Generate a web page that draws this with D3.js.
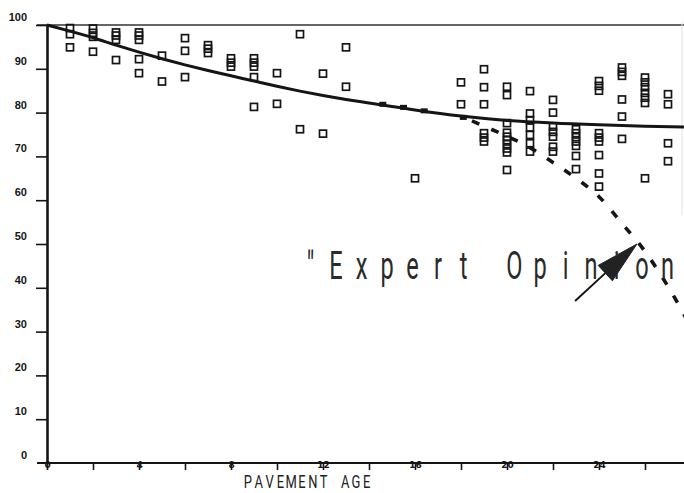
<!DOCTYPE html>
<html><head><meta charset="utf-8">
<script src="https://cdn.jsdelivr.net/npm/d3@7"></script>
<style>
html,body{margin:0;padding:0;background:#fff;}
svg{display:block;}
</style></head><body>
<svg id="chart" width="684" height="493"></svg>
<script>
// Pavement age (years) at which condition surveys were taken
const surveyAges = [1,2,3,4,5,6,7,8,9,10,11,12,13,16,18,19,20,21,22,23,24,25,26,27];
// Condition ratings recorded at each surveyed age
const surveyRatings = [
  [99.3, 97.9, 94.9],
  [99.2, 98.2, 97.3, 93.9],
  [98.3, 97.6, 96.6, 92.0],
  [98.3, 97.6, 96.6, 92.2, 89.0],
  [93.0, 87.1],
  [97.0, 94.1, 88.1],
  [95.4, 94.6, 93.6],
  [92.4, 91.4, 90.5],
  [92.4, 91.4, 90.5, 88.1, 81.3],
  [89.0, 82.0],
  [97.9, 76.2],
  [88.9, 75.2],
  [94.9, 85.9],
  [65.0],
  [86.9, 81.9],
  [89.9, 85.8, 81.9, 75.3, 74.3, 73.4],
  [85.9, 84.0, 77.6, 75.4, 74.5, 73.7, 72.8, 71.8, 70.9, 66.9],
  [84.9, 79.8, 78.3, 76.6, 74.9, 73.0, 71.1],
  [82.9, 80.0, 76.8, 75.6, 74.5, 72.2, 71.1],
  [76.2, 75.3, 74.4, 73.4, 72.4, 70.1, 67.1],
  [87.2, 86.1, 85.0, 75.3, 74.3, 73.4, 70.3, 66.1, 63.1],
  [90.3, 89.3, 88.4, 83.0, 79.1, 74.0],
  [88.0, 86.9, 85.8, 84.5, 83.4, 82.2, 65.0],
  [84.2, 81.9, 73.0, 68.9]
];

// Fitted performance curve
const trendAge    = [0, 1, 2, 3, 4, 5, 6, 7, 8, 9, 10, 11, 12, 13, 14, 15, 16, 18, 20, 22, 24, 26, 28];
const trendRating = [100, 98.6, 97.1, 95.4, 93.8, 92.3, 90.9, 89.6, 88.4, 87.2, 86.0, 84.9, 83.9, 83.0, 82.2, 81.4, 80.6, 79.2, 78.2, 77.6, 77.2, 76.9, 76.7];

// Expert-opinion curve branching off the fitted curve
const expertAge    = [18, 19, 20, 21, 22, 23, 24, 25, 26, 27, 28];
const expertRating = [79.2, 76.9, 74.6, 72.0, 68.6, 65.0, 60.8, 54.7, 48.3, 40.3, 31.0];

// Plotted knots sitting on the fitted curve
const knotAge    = [14.6, 15.5, 16.4, 18.1];
const knotRating = [81.9, 81.2, 80.4, 78.9];

const ageTicks    = [0, 2, 4, 6, 8, 10, 12, 14, 16, 18, 20, 22, 24, 26, 28];
const ageLabels   = [0, 4, 8, 12, 16, 20, 24];
const ratingTicks = [10, 20, 30, 40, 50, 60, 70, 80, 90, 100];
const ratingLabels = [0, 10, 20, 30, 40, 50, 60, 70, 80, 90, 100];

const annotationText = '"Expert Opinion';
const arrowTail = [22.96, 37.0];
const arrowTip  = [25.65, 50.0];

const W = 684, H = 493;
const svg = d3.select("#chart");

const x = d3.scaleLinear().domain([0, 28]).range([47, 691]);
const y = d3.scaleLinear().domain([0, 100]).range([463, 25]);
const ink = "#151515";

// frame: top reference line at 100
svg.append("line").attr("x1", 37).attr("x2", W).attr("y1", y(100)).attr("y2", y(100))
  .attr("stroke", "#333").attr("stroke-width", 1.5);
svg.append("line").attr("x1", 682).attr("x2", 682).attr("y1", 22).attr("y2", 215)
  .attr("stroke", "#e2e2e2").attr("stroke-width", 1);

// y axis
const yAxis = svg.append("g").attr("transform", `translate(${x(0)},0)`)
  .call(d3.axisLeft(y).tickValues(ratingTicks).tickSize(11).tickSizeOuter(0).tickPadding(9)
    .tickFormat(() => ""));
yAxis.select(".domain").attr("stroke", ink).attr("stroke-width", 2.6);
yAxis.selectAll(".tick line").attr("stroke", ink).attr("stroke-width", 1.6);

// y labels sit just above their ticks
svg.append("g").selectAll("text").data(ratingLabels).join("text")
  .attr("x", x(0) - 20).attr("y", d => y(d) - 4)
  .attr("text-anchor", "end")
  .attr("font-family", "Liberation Sans, Arial, sans-serif")
  .attr("font-weight", "bold").attr("font-size", 11).attr("fill", ink)
  .text(d => d);

// x axis
const xAxis = svg.append("g").attr("transform", `translate(0,${y(0)})`)
  .call(d3.axisBottom(x).tickValues(ageTicks).tickSize(7).tickSizeOuter(0)
    .tickFormat(d => ageLabels.includes(d) ? d : ""));
xAxis.select(".domain").remove();
xAxis.selectAll(".tick line").attr("stroke", ink).attr("stroke-width", 1.6);
xAxis.selectAll(".tick text")
  .attr("y", 2).attr("dy", "0.35em")
  .attr("font-family", "DejaVu Sans, sans-serif").attr("font-weight", "bold")
  .attr("font-size", 9).attr("fill", ink);
svg.append("line").attr("x1", 37).attr("x2", W).attr("y1", y(0)).attr("y2", y(0))
  .attr("stroke", ink).attr("stroke-width", 2);

// x title, spaced plotter lettering
const titleChars = Array.from("PAVEMENT AGE");
const tsx = 0.72;
svg.append("g").attr("transform", `translate(0,488) scale(${tsx},1)`)
  .append("text")
  .attr("x", titleChars.map((c, i) => ((248 + i * 10.8) / tsx).toFixed(1)).join(" "))
  .attr("text-anchor", "middle")
  .attr("font-family", "Roboto, sans-serif").attr("font-size", 18).attr("fill", "#222")
  .text(titleChars.join(""));

// survey points
const pts = surveyAges.flatMap((a, i) => surveyRatings[i].map(r => ({a, r})));
const s = 7;
svg.append("g").selectAll("rect").data(pts).join("rect")
  .attr("x", d => x(d.a) - s / 2).attr("y", d => y(d.r) - s / 2)
  .attr("width", s).attr("height", s)
  .attr("fill", "none").attr("stroke", ink).attr("stroke-width", 1.7);

// curves
const line = d3.line().x(d => x(d[0])).y(d => y(d[1])).curve(d3.curveMonotoneX);
svg.append("path").attr("d", line(trendAge.map((a, i) => [a, trendRating[i]])))
  .attr("fill", "none").attr("stroke", ink).attr("stroke-width", 3);
svg.append("path").attr("d", line(expertAge.map((a, i) => [a, expertRating[i]])))
  .attr("fill", "none").attr("stroke", ink).attr("stroke-width", 3.6)
  .attr("stroke-dasharray", "8,13").attr("stroke-dashoffset", -12);

svg.append("g").selectAll("rect").data(knotAge).join("rect")
  .attr("x", d => x(d) - 3.5).attr("y", (d, i) => y(knotRating[i]) - 2.5)
  .attr("width", 7).attr("height", 5).attr("fill", ink);

// annotation text
const annChars = Array.from(annotationText);
const asx = 0.62;
svg.append("g").attr("transform", `translate(0,279) scale(${asx},1)`)
  .append("text")
  .attr("x", annChars.map((c, i) => ((310.5 + i * 25.5) / asx).toFixed(1)).join(" "))
  .attr("text-anchor", "middle")
  .attr("font-family", "Roboto, sans-serif").attr("font-size", 38).attr("fill", "#2a2a2a")
  .text(annotationText);

// arrow pointing at the expert-opinion curve
const tx = x(arrowTail[0]), ty = y(arrowTail[1]);
const hx = x(arrowTip[0]), hy = y(arrowTip[1]);
const dx = hx - tx, dy = hy - ty, len = Math.hypot(dx, dy);
const ux = dx / len, uy = dy / len;
const headLen = 43, headHalf = 10.5;
const bx = hx - ux * headLen, by = hy - uy * headLen;
svg.append("line").attr("x1", tx).attr("y1", ty).attr("x2", bx).attr("y2", by)
  .attr("stroke", ink).attr("stroke-width", 2);
svg.append("path")
  .attr("d", `M${hx},${hy}L${bx - uy * headHalf},${by + ux * headHalf}L${bx + uy * headHalf},${by - ux * headHalf}Z`)
  .attr("fill", "#222").attr("stroke", "#222").attr("stroke-width", 1);
</script>
</body></html>
